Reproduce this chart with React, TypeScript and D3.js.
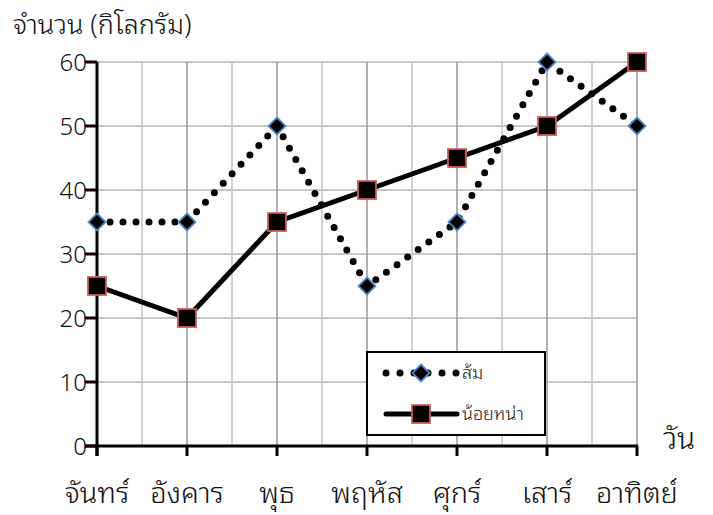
import React from "react";
import * as d3 from "d3";

const days = ["จันทร์", "อังคาร", "พุธ", "พฤหัส", "ศุกร์", "เสาร์", "อาทิตย์"];
const somValues = [35, 35, 50, 25, 35, 60, 50];
const noiNaValues = [25, 20, 35, 40, 45, 50, 60];
const yTicks = [0, 10, 20, 30, 40, 50, 60];
const seriesNames = ["ส้ม", "น้อยหน่า"];

const FONT = "'Noto Sans Thai Looped', 'Noto Serif Thai', 'Noto Sans Thai', 'Leelawadee UI', Tahoma, 'Noto Sans', 'DejaVu Sans', sans-serif";

export default function App() {
  const W = 713, H = 515;
  const left = 97, right = 637, top = 62, bottom = 446;
  const x = d3.scalePoint<number>().domain(days.map((_, i) => i)).range([left, right]);
  const y = d3.scaleLinear().domain([0, 60]).range([bottom, top]);
  const line = d3.line<number>().x((_, i) => x(i)!).y((d) => y(d));
  const step = x.step();
  const halfLines = d3.range(days.length - 1).map((i) => x(i)! + step / 2);

  const diamond = (cx: number, cy: number, r: number) =>
    `M${cx},${cy - r}L${cx + r},${cy}L${cx},${cy + r}L${cx - r},${cy}Z`;

  return (
    <svg width={W} height={H} style={{ position: "absolute", left: 0, top: 0, fontFamily: FONT }}>
      <rect width={W} height={H} fill="#fff" />
      {yTicks.filter((t) => t > 0).map((t) => (
        <line key={"h" + t} x1={left} x2={right} y1={y(t)} y2={y(t)} stroke="#b5b5b5" strokeWidth={1.5} />
      ))}
      {halfLines.map((v, i) => (
        <line key={"vh" + i} x1={v} x2={v} y1={top} y2={bottom} stroke="#c4c4c4" strokeWidth={1.5} />
      ))}
      {days.map((_, i) => i > 0 && (
        <line key={"vc" + i} x1={x(i)} x2={x(i)} y1={top} y2={bottom} stroke="#999" strokeWidth={1.5} />
      ))}
      <line x1={left} x2={left} y1={top} y2={bottom + 10} stroke="#000" strokeWidth={3} />
      <line x1={left - 12} x2={right + 1} y1={bottom} y2={bottom} stroke="#000" strokeWidth={3} />
      {yTicks.map((t) => (
        <g key={"yt" + t}>
          <line x1={left - 12} x2={left} y1={y(t)} y2={y(t)} stroke="#000" strokeWidth={3} />
          <text x={left - 10} y={y(t)} dy="0.36em" textAnchor="end" fontSize={24} fontWeight={300} fill="#111">{t}</text>
        </g>
      ))}
      {days.map((d, i) => (
        <g key={"xt" + i}>
          <line x1={x(i)} x2={x(i)} y1={bottom} y2={bottom + 10} stroke="#000" strokeWidth={3} />
          <text x={x(i)} y={503} textAnchor="middle" fontSize={29} fontWeight={300} fill="#111">{d}</text>
        </g>
      ))}
      <text x={13} y={34} fontSize={27} fontWeight={300} fill="#111">จำนวน (กิโลกรัม)</text>
      <text x={663} y={449} fontSize={30} fontWeight={300} fill="#111">วัน</text>

      <path d={line(somValues)!} fill="none" stroke="#000" strokeWidth={7} strokeDasharray="0 13" strokeLinecap="round" />
      <path d={line(noiNaValues)!} fill="none" stroke="#000" strokeWidth={5} />
      {somValues.map((v, i) => (
        <path key={"sd" + i} d={diamond(x(i)!, y(v), 8.5)} fill="#000" stroke="#4a86c8" strokeWidth={1.8} />
      ))}
      {noiNaValues.map((v, i) => (
        <rect key={"nr" + i} x={x(i)! - 9} y={y(v) - 9} width={18} height={18} fill="#000" stroke="#d05a5a" strokeWidth={1.8} />
      ))}

      <rect x={367} y={352} width={178} height={83} fill="#fff" stroke="#000" strokeWidth={2} />
      <line x1={386} x2={457} y1={373} y2={373} stroke="#000" strokeWidth={7} strokeDasharray="0 14" strokeLinecap="round" />
      <path d={diamond(421, 373, 8.5)} fill="#000" stroke="#4a86c8" strokeWidth={1.8} />
      <text x={462} y={373} dy="0.36em" fontSize={18} fontWeight={300} fill="#111">{seriesNames[0]}</text>
      <line x1={386} x2={457} y1={414} y2={414} stroke="#000" strokeWidth={5} strokeLinecap="round" />
      <rect x={412} y={405} width={18} height={18} fill="#000" stroke="#d05a5a" strokeWidth={1.8} />
      <text x={462} y={414} dy="0.36em" fontSize={18} fontWeight={300} fill="#111">{seriesNames[1]}</text>
    </svg>
  );
}
